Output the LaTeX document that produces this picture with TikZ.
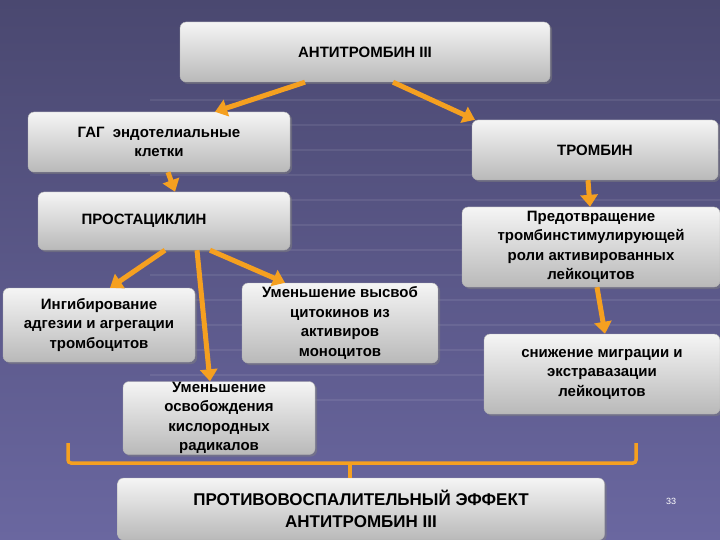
\documentclass[tikz,border=0pt]{standalone}
\usepackage{fontspec}
\setmainfont{Liberation Sans}
\usetikzlibrary{shadows,arrows.meta}
\definecolor{bgtop}{HTML}{4A4870}
\definecolor{bgbot}{HTML}{6A67A0}
\definecolor{arr}{HTML}{F5A020}
\tikzset{
  box/.style={draw=gray!60, rounded corners=6pt, top color=gray!8, bottom color=gray!55,
    drop shadow={shadow xshift=2pt,shadow yshift=-2pt,opacity=.5}, font=\bfseries\fontsize{15}{19.5}\selectfont, align=center, inner sep=0pt},
  con/.style={draw=arr, line width=5pt, -{Triangle[width=17pt,length=12pt]}},
}
\begin{document}
\begin{tikzpicture}[x=1pt,y=-1pt]
\shade[top color=bgtop,bottom color=bgbot] (0,0) rectangle (720,540);
\useasboundingbox (0,0) rectangle (720,540);
\foreach \y in {100,125,...,400} \draw[white,opacity=.08,line width=2pt] (150,\y) -- (720,\y);
\node[box, minimum width=370pt, minimum height=60pt] (A) at (365,52) {АНТИТРОМБИН III};
\node[box, minimum width=262pt, minimum height=60pt] (G) at (159,142) {ГАГ \ эндотелиальные\\клетки};
\node[box, minimum width=246pt, minimum height=60pt] (T) at (595,150) {ТРОМБИН};
\node[box, minimum width=252pt, minimum height=58pt] (P) at (164,221) {\hspace*{-40pt}ПРОСТАЦИКЛИН};
\node[box, minimum width=258pt, minimum height=80pt] (D) at (591,247) {Предотвращение\\тромбинстимулирующей\\роли активированных\\лейкоцитов};
\node[box, minimum width=192pt, minimum height=74pt] (I) at (99,325) {Ингибирование\\адгезии и агрегации\\тромбоцитов};
\node[box, minimum width=196pt, minimum height=80pt] (U) at (340,323) {Уменьшение высвоб\\цитокинов из\\активиров\\моноцитов};
\node[box, minimum width=236pt, minimum height=80pt] (S) at (602,374) {снижение миграции и\\экстравазации\\лейкоцитов};
\node[box, minimum width=192pt, minimum height=73pt] (O) at (219,418) {Уменьшение\\освобождения\\кислородных\\радикалов};
\node[box, minimum width=487pt, minimum height=62pt, font=\bfseries\fontsize{17}{22}\selectfont] (E) at (361,509) {ПРОТИВОВОСПАЛИТЕЛЬНЫЙ ЭФФЕКТ\\АНТИТРОМБИН III};
\node[white, font=\fontsize{9}{10}\selectfont] (n) at (671,501) {33};
\draw[con] ([xshift=-60pt]A.south) -- ([xshift=56pt]G.north);
\draw[con] ([xshift=28pt]A.south) -- ([xshift=-120pt]T.north);
\draw[con] ([xshift=9pt]G.south) -- ([xshift=11pt]P.north);
\draw[con] ([xshift=1pt]P.south) -- ([xshift=11pt]I.north);
\draw[con] ([xshift=33pt]P.south) -- ([xshift=-9pt]O.north);
\draw[con] ([xshift=46pt]P.south) -- ([xshift=-55pt]U.north);
\draw[con] ([xshift=-7pt]T.south) -- ([xshift=-1pt]D.north);
\draw[con] ([xshift=6pt]D.south) -- ([xshift=3pt]S.north);
\coordinate (b1) at (68,443); \coordinate (b2) at (636,443); \coordinate (bt) at (350,478);
\draw[arr, line width=3.5pt, rounded corners=3pt] (b1) -- (68,463) -- (636,463) -- (b2);
\draw[arr, line width=3.5pt] (350,463) -- (bt);
\end{tikzpicture}
\end{document}
